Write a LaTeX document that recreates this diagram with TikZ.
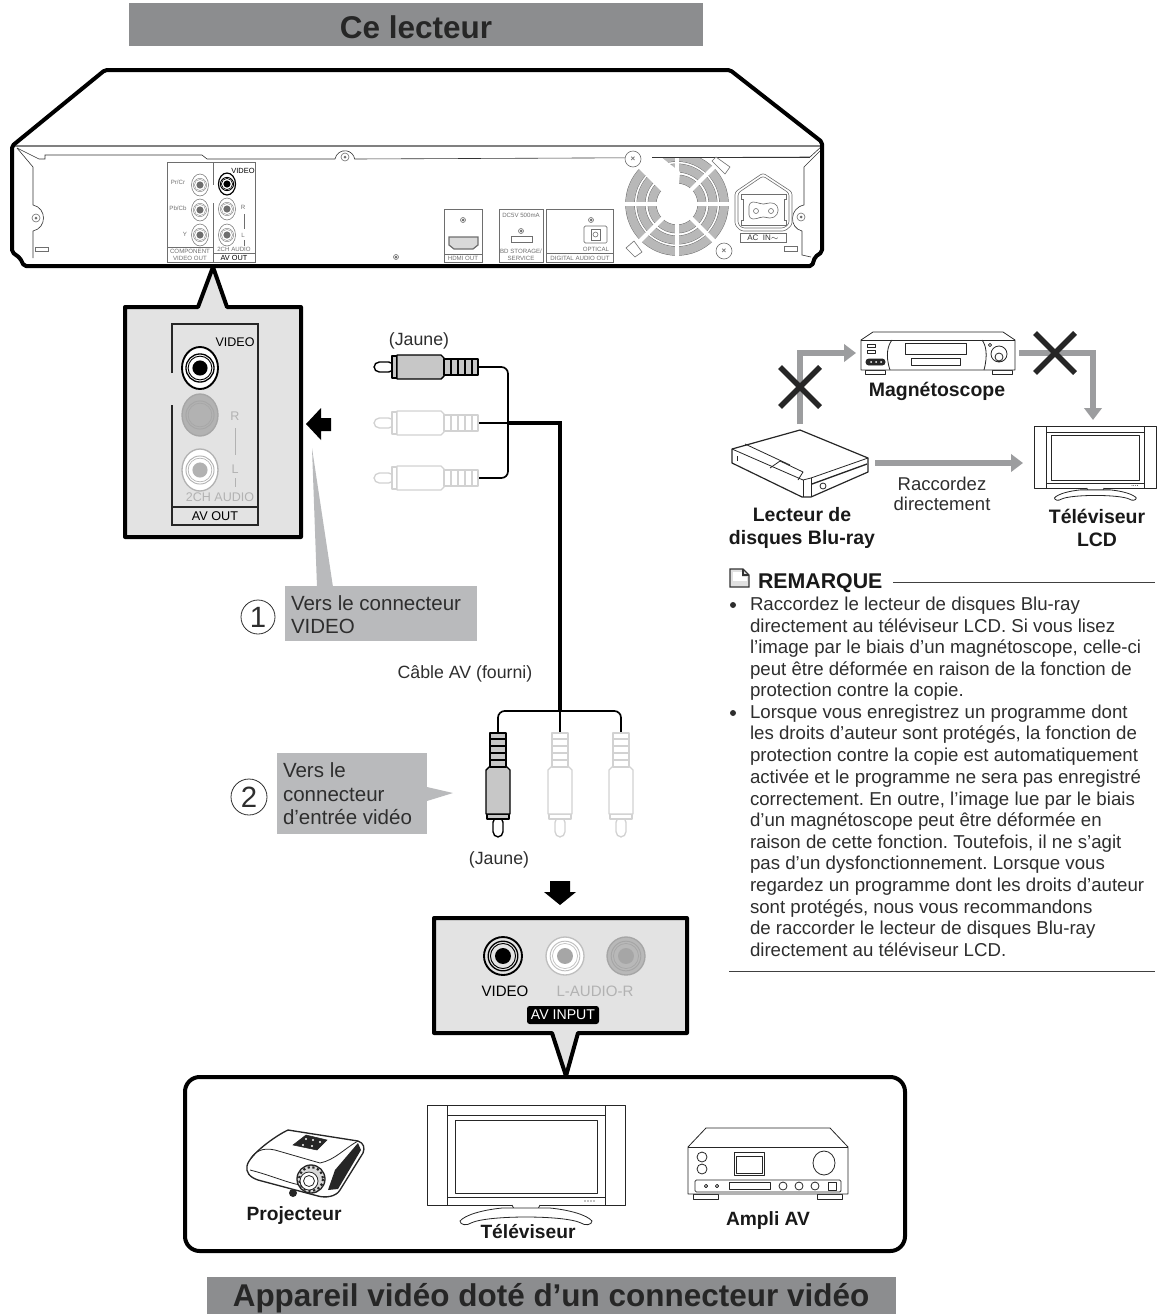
\documentclass[tikz,border=0pt]{standalone}
\usepackage{fontspec}
\setmainfont{Liberation Sans}
\usetikzlibrary{arrows.meta}
\definecolor{titlegray}{HTML}{8C8D8F}
\definecolor{labelgray}{HTML}{B9BABC}
\definecolor{panelgray}{HTML}{E3E3E3}
\definecolor{arrowgray}{HTML}{9C9D9F}
\definecolor{ghost}{HTML}{D2D2D2}
\definecolor{fangray}{HTML}{B8B8B8}
\definecolor{inkgray}{HTML}{6E6E6E}
\definecolor{bodyink}{HTML}{2E2E2E}
\newcommand{\fs}[1]{\fontsize{#1}{#1}\selectfont}
\frenchspacing
\tikzset{
  heavy/.style={line width=3pt,line join=round},
  fine/.style={line width=.45pt,inkgray},
  txt/.style={inner sep=0pt,outer sep=0pt,text=bodyink},
  small/.style={txt,font=\fs{4.6},text=inkgray},
  bold/.style={txt,font=\fs{14.6}\bfseries,text=black!90,align=center},
  body/.style={txt,font=\fs{14},anchor=base west},
  title/.style={txt,font=\bfseries,text=black!85},
  cable/.style={line width=1.25pt,rounded corners=5pt},
  flow/.style={line width=4.6pt,arrowgray,-{Triangle[length=9pt,width=13pt]}},
  nope/.style={line width=4pt,black!85},
  dev/.style={line width=.6pt,black!85,line join=round},
}
% jack: x,y,rx,ry,line,bg,core,lw
\newcommand{\rcajack}[8]{%
  \begin{scope}[shift={(#1,#2)}]
    \draw[line width=#8,#5,fill=#6] (0,0) ellipse ({#3} and {#4});
    \draw[line width=#8*.7,#5] (0,0) ellipse ({#3*.78} and {#3*.78});
    \draw[line width=#8*.5,#5] (0,0) ellipse ({#3*.66} and {#3*.66});
    \fill[#7] (0,0) circle ({#3*.42});
  \end{scope}}
% plug: origin at wire end, extending towards -x
\newcommand{\rcaplug}[6]{%
  \begin{scope}[shift={(#1,#2)},rotate=#3,line width=#6,draw=#4,line join=round]
    \filldraw[fill=white,rounded corners=4pt] (-84,-5) -- (-104,-5) -- (-104,5) -- (-84,5) -- cycle;
    \filldraw[fill=#5] (-86,-11) rectangle (-81,11);
    \filldraw[fill=#5] (-81,-12) -- (-37,-12) -- (-34,-9) -- (-34,9) -- (-37,12) -- (-81,12) -- cycle;
    \filldraw[fill=#5] (-34,-8) rectangle (0,8);
    \draw (-27,-8) -- (-27,8) (-20,-8) -- (-20,8) (-13,-8) -- (-13,8) (-6,-8) -- (-6,8);
  \end{scope}}
\newcommand{\screw}[3]{%
  \draw[fine,fill=white] (#1,#2) circle (#3);
  \fill[inkgray] (#1,#2) circle (1.5);}
\newcommand{\lcdtv}[3]{%
  \begin{scope}[shift={(#1,#2)},x=#3*.75pt,y=-#3*.75pt]
    \draw[dev,fill=white] (0,0) rectangle (198,100);
    \draw[dev] (20,0) -- (20,100) (178,0) -- (178,100) (20,10) -- (178,10) (20,92) -- (178,92);
    \draw[dev] (28,15) rectangle (170,88);
    \foreach \q in {158,161,164,167}{\fill[black] (\q,96) circle (.6);}
    \draw[dev,fill=white] (85,100) -- (87,104) -- (111,104) -- (113,100);
    \draw[dev,fill=white] (75,103) .. controls (55,105) and (38,110) .. (33,116)
       .. controls (33,120) and (40,121) .. (44,118) .. controls (60,110) and (138,110) .. (154,118)
       .. controls (158,121) and (165,120) .. (165,116) .. controls (160,110) and (143,105) .. (123,103) -- cycle;
  \end{scope}}
\begin{document}
\begin{tikzpicture}[x=.75pt,y=-.75pt]
\useasboundingbox (0,0) rectangle (1157,1314);
% ---------- titles
\fill[titlegray] (129,3) rectangle (703,46);
\node[title,font=\fs{23.6}\bfseries] (titletop) at (416,27) {Ce lecteur};
\fill[titlegray] (207,1277) rectangle (896,1314);
\node[title,font=\fs{23.6}\bfseries] (titlebottom) at (551,1298) {Appareil vidéo doté d’un connecteur vidéo};
% ---------- player
\draw[line width=.8pt,black!50] (14,146) -- (820,146);
\draw[fine,black!80] (17,148) -- (39,159) -- (45,159) -- (45,155) -- (202,155) -- (207,159) -- (335,159)
  arc[start angle=190,end angle=350,radius=10] -- (810,157) -- (822,146);
\draw[fine,black!80] (17,148) -- (33,167) -- (33,205) .. controls (47,208) and (47,228) .. (33,231) -- (33,258);
\draw[fine,black!80] (823,148) -- (804,167) -- (804,205) .. controls (789,208) and (789,228) .. (802,231) -- (802,255) -- (811,257);
\draw[fine] (35,247) rectangle (48,251) (784,246) rectangle (797,251);
\screw{36}{218}{4}\screw{345}{157}{4}\screw{801}{217}{4}
\screw{396}{257}{2.5}
% fan
\begin{scope}
  \clip (600,157) rectangle (740,262);
  \foreach \r/\w in {25/6,36/6,47/6.4}{
    \draw[inkgray,line width=\w pt+.7pt] (677,204) circle (\r);
    \draw[fangray,line width=\w pt] (677,204) circle (\r);}
  \foreach \a in {0,45,...,315}{\draw[white,line width=3pt] (677,204) -- +(\a:60);}
  \fill[white] (677,204) -- (620,147) -- (652,150) -- (680,172) -- cycle;
\end{scope}
\draw[fine,black!80] (652,157) -- (810,157);
\draw[fine,fill=white] (633,159) circle (8);
\draw[fine,fill=white] (724,251) circle (8);
\node[small,font=\fs{6}\bfseries] (screwa) at (633,159) {×};
\node[small,font=\fs{6}\bfseries] (screwb) at (724,251) {×};
\draw[fine,fill=white] (716,157) -- (730,167) -- (725,174) -- (712,161) -- cycle;
\draw[fine,fill=white] (626,248) -- (634,241) -- (642,252) -- (635,257) -- cycle;
% AC inlet
\draw[fine,fill=white,rounded corners=2pt] (735,192) -- (763,173) -- (792,192) -- (792,225) -- (785,231) -- (741,231) -- (735,225) -- cycle;
\draw[fine,rounded corners=2pt] (738,193) -- (763,176) -- (789,193) -- (789,224) -- (784,228) -- (742,228) -- (738,224) -- cycle;
\draw[fine] (741,194) -- (786,194) -- (786,199) -- (784,199) -- (784,220) -- (786,220) -- (786,225) -- (741,225) -- (741,220) -- (743,220) -- (743,199) -- (741,199) -- cycle;
\draw[fine,rounded corners=3pt] (749,202) -- (757,202) -- (763,205) -- (770,202) -- (778,205) -- (778,215) -- (770,219) -- (763,216) -- (757,219) -- (749,219) -- cycle;
\draw[fine] (756,211) circle (2.5) (771,211) circle (2.5);
\draw[fine] (740,233) rectangle (786,242);
\node[small,font=\fs{6},text=black!80] (aclabel) at (763,237.5) {AC\ \ IN$\sim$};
% jack panels
\draw[fine] (167,162) rectangle (255,262);
\draw[fine] (213,162) -- (213,185) (213,203) -- (213,262) (167,247) -- (213,247) (213,253) -- (255,253);
\rcajack{200}{185}{8.5}{11}{inkgray}{white}{inkgray}{.4pt}
\rcajack{200}{210}{8.5}{11}{inkgray}{white}{inkgray}{.4pt}
\rcajack{200}{235}{8.5}{11}{inkgray}{white}{inkgray}{.4pt}
\rcajack{227}{184}{8.5}{11}{black}{white}{black}{.9pt}
\rcajack{227}{209}{8.5}{11}{inkgray}{white}{inkgray}{.4pt}
\rcajack{227}{235}{8.5}{11}{inkgray}{white}{inkgray}{.4pt}
\node[small] (lpr) at (178,182) {Pr/Cr};
\node[small] (lpb) at (178,208) {Pb/Cb};
\node[small] (ly) at (185,234) {Y};
\node[small,text=black,font=\fs{5.6}] (lvid) at (243,171) {VIDEO};
\node[small] (lr) at (243,207) {R};
\node[small] (ll) at (243,235) {L};
\draw[fine] (244,214) -- (244,229) (244,240) -- (244,246);
\node[small,align=center] (lcomp) at (190,255) {COMPONENT\\[.5pt]VIDEO OUT};
\node[small] (l2ch) at (234,249.5) {2CH AUDIO};
\node[small,text=black,font=\fs{5.5}] (lavout) at (234,258) {AV OUT};
\draw[fine] (444,209) rectangle (482,262) (444,254) -- (482,254);
\screw{463}{220}{2.5}
\draw[fine,line width=.9pt,fill=black!15] (449,237) -- (478,237) -- (478,245) -- (473,249) -- (454,249) -- (449,245) -- cycle;
\node[small] (lhdmi) at (463,258) {HDMI OUT};
\draw[fine] (499,209) rectangle (543,262);
\node[small] (ldc) at (521,215) {DC5V 500mA};
\screw{521}{231}{2.5}
\draw[fine] (511,236) rectangle (532,242);
\node[small,align=center] (lbd) at (521,254.5) {BD STORAGE/\\[.5pt]SERVICE};
\draw[fine] (546,209) rectangle (613,262) (546,253) -- (613,253);
\screw{591}{220}{2.5}
\draw[fine,rounded corners=1pt] (584,226) rectangle (607,243);
\draw[fine] (591,229) rectangle (600,240);
\draw[fine] (595.5,234.5) circle (2.5);
\node[small] (lopt) at (596,249) {OPTICAL};
\node[small] (ldig) at (580,258) {DIGITAL AUDIO OUT};
% outline
\draw[heavy,rounded corners=1.5pt] (105,70) -- (730,70) -- (822,142) -- (822,252) -- (815,257) -- (812,266) -- (24,266) -- (20,258) -- (12,252) -- (12,146) -- cycle;
% ---------- left callout
\draw[heavy,fill=panelgray] (125,307) -- (198,307) -- (213,267) -- (227,307) -- (301,307) -- (301,537) -- (125,537) -- cycle;
\draw[line width=.9pt,black!85] (172,373) -- (172,324) -- (258,324) -- (258,525) -- (172,525) -- (172,405) (172,507) -- (258,507);
\rcajack{200}{368}{18}{21}{black}{white}{black}{1.4pt}
\rcajack{200}{415}{18}{21}{black!35}{black!30}{black!30}{1pt}
\rcajack{200}{470}{18}{21}{black!30}{white}{black!30}{1pt}
\node[txt,font=\fs{9.4},text=black] (pvideo) at (235,342) {VIDEO};
\node[txt,font=\fs{9.4},text=black!30] (pr) at (235,416) {R};
\node[txt,font=\fs{9.4},text=black!30] (pl) at (235,469) {L};
\draw[black!30,line width=.6pt] (235,428) -- (235,455) (235,478) -- (235,487);
\node[txt,font=\fs{9.4},text=black!30] (p2ch) at (220,497) {2CH AUDIO};
\node[txt,font=\fs{9.5},text=black] (pav) at (215,516) {AV OUT};
\fill[black] (306,424) -- (321,408) -- (321,418) -- (331,418) -- (331,431) -- (321,431) -- (321,440) -- cycle;
% label 1
\fill[labelgray] (285,586) rectangle (477,641);
\fill[labelgray] (312,448) -- (317,587) -- (333,587) -- cycle;
\node[body,font=\fs{15.4}] (vers1) at (291,610) {Vers le connecteur};
\node[body,font=\fs{15.4}] (vers2) at (291,633) {VIDEO};
\node[draw=bodyink,line width=.6pt,circle,minimum size=25.5pt,inner sep=0pt,txt,font=\fs{22}] (one) at (258,617) {1};
% ---------- cables
\coordinate (ya) at (478,367); \coordinate (yb) at (478,423); \coordinate (yc) at (478,478);
\coordinate (jct) at (508,423); \coordinate (bend) at (560,711);
\coordinate (va) at (498,733); \coordinate (vb) at (560,733); \coordinate (vc) at (621,733);
\draw[cable] (ya) -| (jct) |- (yc);
\draw[cable,rounded corners=0pt] (yb) -- (jct);
\draw[line width=3pt,black] (jct) -| (bend);
\draw[cable] (va) |- (bend) -| (vc);
\draw[cable,rounded corners=0pt] (bend) -- (vb);
\rcaplug{478}{367}{0}{black}{black!22}{1.05pt}
\rcaplug{478}{423}{0}{ghost}{white}{1pt}
\rcaplug{478}{478}{0}{ghost}{white}{1pt}
\rcaplug{498}{733}{90}{black}{black!22}{1.05pt}
\rcaplug{560}{733}{90}{ghost}{white}{1pt}
\rcaplug{621}{733}{90}{ghost}{white}{1pt}
\node[txt,font=\fs{13.3}] (j1) at (419,341) {(Jaune)};
\node[txt,font=\fs{13.3}] (j2) at (499,860) {(Jaune)};
\node[txt,font=\fs{13.3}] (cable) at (465,674) {Câble AV (fourni)};
% label 2
\fill[labelgray] (277,753) rectangle (427,834);
\fill[labelgray] (427,787) -- (453,793) -- (427,801) -- cycle;
\node[body,font=\fs{15.4}] (v2a) at (283,777) {Vers le};
\node[body,font=\fs{15.4}] (v2b) at (283,801) {connecteur};
\node[body,font=\fs{15.4}] (v2c) at (283,824) {d’entrée vidéo};
\node[draw=bodyink,line width=.6pt,circle,minimum size=27pt,inner sep=0pt,txt,font=\fs{22}] (two) at (249,797) {2};
\fill[black] (560,905) -- (544,892) -- (550,892) -- (550,881) -- (570,881) -- (570,892) -- (576,892) -- cycle;
% ---------- bottom box, then callout with its pointer on top
\draw[heavy,rounded corners=11pt,fill=white] (185,1077) rectangle (905,1251);
\draw[heavy,fill=panelgray] (434,918) -- (687,918) -- (687,1033) -- (578,1033) -- (566,1076) -- (552,1033) -- (434,1033) -- cycle;
\rcajack{503}{956}{19}{19}{black}{panelgray}{black}{1.4pt}
\rcajack{565}{956}{19}{19}{black!25}{white}{black!35}{1pt}
\rcajack{626}{956}{19}{19}{black!35}{black!28}{black!35}{1pt}
\node[txt,font=\fs{11.3},text=black] (ivideo) at (505,991) {VIDEO};
\node[txt,font=\fs{11.3},text=black!30] (iaudio) at (595,991) {L-AUDIO-R};
\node[fill=black,rounded corners=2pt,minimum width=54pt,minimum height=13.5pt,inner sep=0pt,text=white,font=\fs{10.6}] (iav) at (563,1015) {AV INPUT};
% devices in the box
\lcdtv{427}{1105}{1}
\node[bold,font=\fs{14.4}\bfseries] (ltele) at (528,1232) {Téléviseur};
\node[bold,font=\fs{14.4}\bfseries] (lproj) at (294,1216) {Projecteur};
\node[bold,font=\fs{14.4}\bfseries] (lampli) at (768,1221) {Ampli AV};
% projector
\draw[dev,line width=1pt,fill=white] (288,1130) -- (358,1141) .. controls (364,1143) and (365,1148) .. (363,1153) -- (340,1190) .. controls (336,1197) and (325,1198) .. (318,1196) -- (258,1180) .. controls (249,1177) and (246,1172) .. (247,1166) .. controls (249,1155) and (275,1136) .. (288,1130) -- cycle;
\fill[black!85] (361,1150) -- (338,1189) -- (328,1190) -- (335,1170) -- (358,1143) -- cycle;
\draw[dev] (251,1158) .. controls (255,1152) and (262,1147) .. (275,1150) -- (320,1163) .. controls (335,1160) and (345,1148) .. (358,1141);
\draw[dev] (250,1170) .. controls (270,1175) and (285,1182) .. (300,1185);
\filldraw[black!85] (293,1145) -- (306,1135) -- (327,1140) -- (317,1150) -- cycle;
\foreach \a/\b in {306/1139,313/1140,320/1142,303/1145,312/1146}{\fill[white] (\a,\b) circle (1.1);}
\filldraw[dev,fill=black!15,line width=1pt] (311,1179) ellipse (14 and 14);
\draw[dev,line width=1.6pt,dotted] (311,1179) circle (12);
\filldraw[dev,fill=white] (309,1181) circle (9);
\draw[dev] (309,1181) circle (5.5);
\fill[black!85] (293,1193) circle (4);
% amplifier
\draw[dev,fill=white] (693,1194) rectangle (718,1199) (817,1194) rectangle (842,1199);
\draw[dev,fill=white] (688,1147) -- (706,1128) -- (830,1128) -- (848,1147) -- (848,1194) -- (688,1194) -- cycle;
\draw[dev] (688,1147) -- (848,1147);
\draw[dev] (702,1157) circle (5) (702,1169) circle (5);
\draw[dev] (734,1152) rectangle (764,1175) (736,1156) rectangle (762,1173);
\draw[dev] (824,1163) ellipse (11 and 12);
\draw[dev,rounded corners=1pt] (695,1180) rectangle (841,1192);
\draw[dev] (706,1186) circle (1.7) (717,1186) circle (1.7);
\draw[dev] (729,1182) rectangle (770,1189);
\draw[dev] (783,1186) circle (4) (799,1186) circle (4) (815,1186) circle (4);
\draw[dev] (828,1182) rectangle (836,1190);
% ---------- right diagram: arrows
\coordinate (playtop) at (800,424); \coordinate (vcrleft) at (856,353);
\coordinate (vcrright) at (1019,353); \coordinate (tvtop) at (1093,420);
\coordinate (playright) at (875,463); \coordinate (tvleft) at (1023,463);
\draw[flow] (playtop) |- (vcrleft);
\draw[flow] (vcrright) -| (tvtop);
\draw[flow] (playright) -- (tvleft);
\coordinate (xa) at (800,387); \coordinate (xb) at (1055,353);
\draw[nope] ([shift={(-20,-20)}]xa) -- ([shift={(20,20)}]xa) ([shift={(-20,20)}]xa) -- ([shift={(20,-20)}]xa);
\draw[nope] ([shift={(-20,-20)}]xb) -- ([shift={(20,20)}]xb) ([shift={(-20,20)}]xb) -- ([shift={(20,-20)}]xb);
% VCR
\draw[dev,fill=white] (865,370) rectangle (885,374) (992,370) rectangle (1012,374);
\draw[dev,fill=white] (861,340) -- (873,332) -- (1003,332) -- (1015,340) -- (1015,370) -- (861,370) -- cycle;
\draw[dev] (861,340) -- (1015,340);
\draw[dev] (890,370) .. controls (885,355) and (888,345) .. (892,340) (984,370) .. controls (988,355) and (986,345) .. (982,340);
\draw[dev] (905,343) rectangle (966,354) (911,358) rectangle (960,365);
\draw[dev] (867,344) rectangle (875,347) (867,350) rectangle (875,353);
\draw[dev,rounded corners=2pt,fill=black!85] (866,359) rectangle (885,365);
\foreach \q in {871,876,881}{\fill[white] (\q,362) circle (1);}
\draw[dev] (999,354) circle (8) (999,357) circle (4);
\draw[dev] (990,345) circle (1.6);
\node[bold] (lvcr) at (937,391) {Magnétoscope};
% Blu-ray player
\draw[dev,line width=.9pt,fill=white] (800,430) -- (868,458) -- (868,472) -- (811,497) -- (802,497) -- (732,463) -- (732,449) -- cycle;
\draw[dev] (732,449) -- (803,480) -- (811,478) -- (868,458);
\draw[dev] (803,480) -- (803,497) (811,478) -- (811,497);
\draw[dev,line width=1pt] (812,484) -- (867,464);
\draw[dev] (745,444) -- (790,465);
\draw[dev] (770,468) -- (780,461) -- (803,472) -- (798,480);
\draw[dev] (737,456) -- (737,461);
\draw[dev] (823,486) circle (3);
\node[bold] (lplay) at (802,528) {Lecteur de\\[2pt]disques Blu-ray};
\lcdtv{1034}{426}{.62}
\node[bold] (ltv) at (1097,528) {Téléviseur\\[2pt]LCD};
\node[txt,font=\fs{13.9},align=center] (rac) at (942,494) {Raccordez\\[1.1pt]directement};
% ---------- note
\draw[line width=1pt,black!80,fill=black!12] (730,569) -- (743,569) -- (749,575) -- (749,587) -- (730,587) -- cycle;
\draw[line width=.8pt,black!80] (743,569) -- (743,575) -- (749,575);
\fill[white] (733,571.5) rectangle (741.5,581);
\fill[white] (741.5,576.5) rectangle (747,581);
\node[txt,font=\fs{16}\bfseries,anchor=base west,text=black!90] (rem) at (758,588) {REMARQUE};
\coordinate (rula) at (893,582); \coordinate (rulb) at (1155,582);
\draw[line width=.7pt,black!75] (rula) -- (rulb);
\fill[bodyink] (733,605) circle (3) (733,713) circle (3);
\node[body] (n1) at (750,610.5) {Raccordez le lecteur de disques Blu-ray};
\node[body] (n2) at (750,632) {directement au téléviseur LCD. Si vous lisez};
\node[body] (n3) at (750,653.5) {l’image par le biais d’un magnétoscope, celle-ci};
\node[body] (n4) at (750,675) {peut être déformée en raison de la fonction de};
\node[body] (n5) at (750,696) {protection contre la copie.};
\node[body] (n6) at (750,718) {Lorsque vous enregistrez un programme dont};
\node[body] (n7) at (750,739.5) {les droits d’auteur sont protégés, la fonction de};
\node[body] (n8) at (750,761) {protection contre la copie est automatiquement};
\node[body] (n9) at (750,783) {activée et le programme ne sera pas enregistré};
\node[body] (n10) at (750,805) {correctement. En outre, l’image lue par le biais};
\node[body] (n11) at (750,826) {d’un magnétoscope peut être déformée en};
\node[body] (n12) at (750,848) {raison de cette fonction. Toutefois, il ne s’agit};
\node[body] (n13) at (750,869) {pas d’un dysfonctionnement. Lorsque vous};
\node[body] (n14) at (750,891) {regardez un programme dont les droits d’auteur};
\node[body] (n15) at (750,913) {sont protégés, nous vous recommandons};
\node[body] (n16) at (750,934) {de raccorder le lecteur de disques Blu-ray};
\node[body] (n17) at (750,956) {directement au téléviseur LCD.};
\coordinate (rulc) at (729,971); \coordinate (ruld) at (1155,971);
\draw[line width=.7pt,black!75] (rulc) -- (ruld);
\end{tikzpicture}
\end{document}
